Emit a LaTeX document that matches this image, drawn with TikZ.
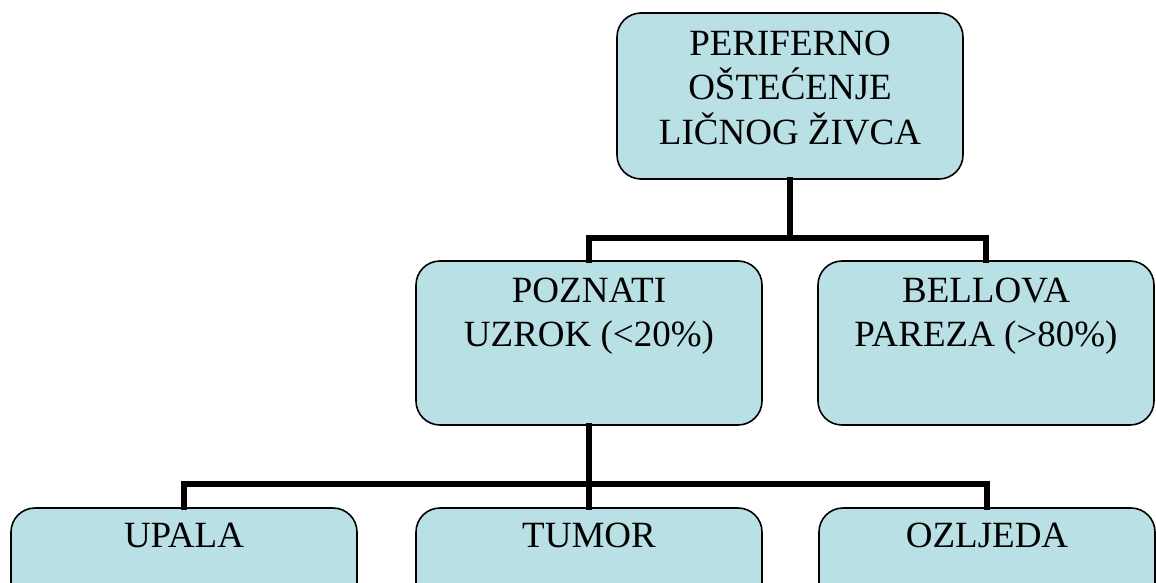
\documentclass[tikz,border=0pt]{standalone}
\usepackage{fontspec}
\setmainfont{Liberation Serif}
\usetikzlibrary{positioning}
\definecolor{boxblue}{RGB}{185, 224, 228}

\begin{document}
\begin{tikzpicture}[
  x=0.5pt, y=-0.5pt,
  box/.style={draw=black, line width=0.8pt, fill=boxblue, rounded corners=12pt,
    minimum width=173pt, minimum height=82pt, inner sep=0pt},
  lbl/.style={inner sep=0pt, align=center, font={\fontsize{18.5}{22.4}\selectfont}},
  conn/.style={line width=3pt, line cap=rect}
]

%% ===== okvir slike =====
\useasboundingbox (0,0) rectangle (1156,583);
\clip (0,0) rectangle (1156,583);

%% ===== gornja razina =====
\node[box, minimum height=83pt] (peri) at (790, 96) {};
\node[lbl, below=9pt of peri.north] (periT)
  {PERIFERNO\\OŠTEĆENJE\\LIČNOG ŽIVCA};

%% ===== srednja razina =====
\node[box] (poz) at (589, 343) {};
\node[lbl, below=8.5pt of poz.north] (pozT) {POZNATI\\UZROK (<20\%)};

\node[box, minimum width=168pt] (bell) at (986, 343) {};
\node[lbl, below=8.5pt of bell.north] (bellT) {BELLOVA\\PAREZA (>80\%)};

%% ===== donja razina (odrezana na rubu) =====
\node[box] (upala) at (184, 590) {};
\node[lbl, below=7.8pt of upala.north] (upalaT) {UPALA};

\node[box] (tumor) at (589, 590) {};
\node[lbl, below=7.8pt of tumor.north] (tumorT) {TUMOR};

\node[box, minimum width=168pt] (ozlj) at (987, 590) {};
\node[lbl, below=7.8pt of ozlj.north] (ozljT) {OZLJEDA};

%% ===== spojnice =====
\draw[conn] (peri.south) -- ++(0,58) coordinate (j1);
\draw[conn] (poz.north) |- (j1) -| (bell.north);

\draw[conn] (poz.south) -- ++(0,58) coordinate (j2);
\draw[conn] (upala.north) |- (j2) -| (ozlj.north);
\draw[conn] (j2) -- (tumor.north);

\end{tikzpicture}
\end{document}
